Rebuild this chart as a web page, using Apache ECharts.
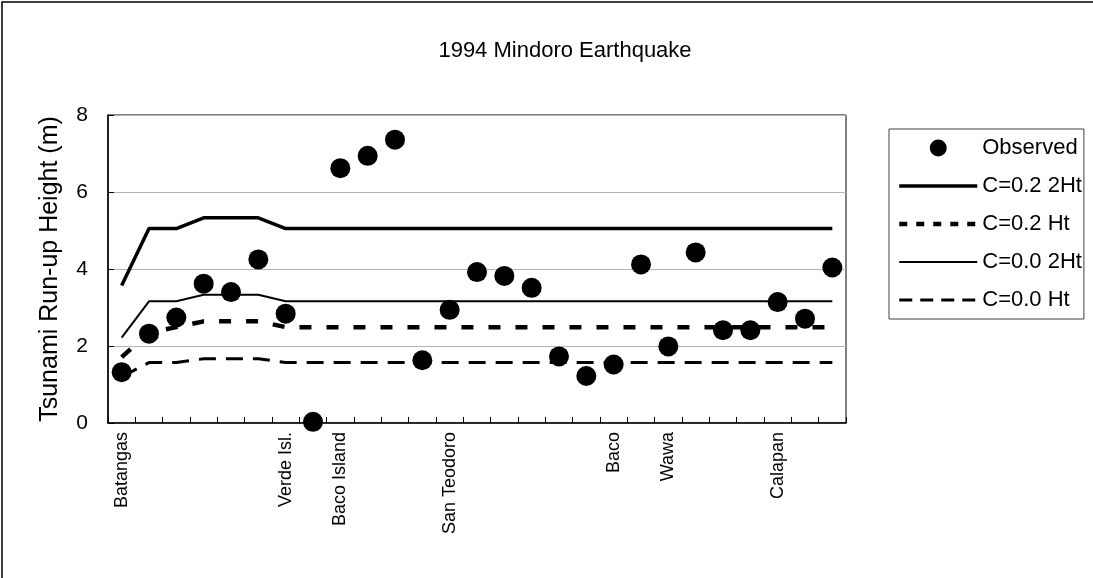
<!DOCTYPE html>
<html>
<head>
<meta charset="utf-8">
<script src="https://cdn.jsdelivr.net/npm/echarts@6/dist/echarts.min.js"></script>
<style>
html,body{margin:0;padding:0;background:#fff;}
#chart{width:1093px;height:578px;}
</style>
</head>
<body>
<div id="chart"></div>
<script>
var categories = ['Batangas','','','','','','Verde Isl.','','Baco Island','','','','San Teodoro','','','','','','Baco','','Wawa','','','','Calapan','',''];
var observed = [1.32, 2.32, 2.74, 3.62, 3.40, 4.25, 2.84, 0.03, 6.62, 6.94, 7.36, 1.63, 2.94, 3.92, 3.82, 3.51, 1.73, 1.22, 1.52, 4.12, 1.99, 4.43, 2.41, 2.41, 3.14, 2.71, 4.04];
var c02_2Ht = [3.57, 5.05, 5.05, 5.33, 5.33, 5.33, 5.05, 5.05, 5.05, 5.05, 5.05, 5.05, 5.05, 5.05, 5.05, 5.05, 5.05, 5.05, 5.05, 5.05, 5.05, 5.05, 5.05, 5.05, 5.05, 5.05, 5.05];
var c02_Ht = [1.71, 2.35, 2.49, 2.64, 2.64, 2.64, 2.49, 2.49, 2.49, 2.49, 2.49, 2.49, 2.49, 2.49, 2.49, 2.49, 2.49, 2.49, 2.49, 2.49, 2.49, 2.49, 2.49, 2.49, 2.49, 2.49, 2.49];
var c00_2Ht = [2.22, 3.16, 3.16, 3.33, 3.33, 3.33, 3.16, 3.16, 3.16, 3.16, 3.16, 3.16, 3.16, 3.16, 3.16, 3.16, 3.16, 3.16, 3.16, 3.16, 3.16, 3.16, 3.16, 3.16, 3.16, 3.16, 3.16];
var c00_Ht = [1.20, 1.57, 1.57, 1.67, 1.67, 1.67, 1.57, 1.57, 1.57, 1.57, 1.57, 1.57, 1.57, 1.57, 1.57, 1.57, 1.57, 1.57, 1.57, 1.57, 1.57, 1.57, 1.57, 1.57, 1.57, 1.57, 1.57];
var yTicks = [0, 2, 4, 6, 8];
var titleText = '1994 Mindoro Earthquake';
var yName = 'Tsunami Run-up Height (m)';
var seriesNames = ['Observed', 'C=0.2 2Ht', 'C=0.2 Ht', 'C=0.0 2Ht', 'C=0.0 Ht'];

var FONT = "'Liberation Sans', Arial, sans-serif";
var chart = echarts.init(document.getElementById('chart'), null, {renderer: 'canvas'});

var lineStyles = [
  null,
  {width: 3.5, type: 'solid'},
  {width: 4.5, type: [12, 15]},
  {width: 2, type: 'solid'},
  {width: 3, type: [17, 10]}
];
var legendDash = [null, 'solid', [8, 9], 'solid', [13, 8]];
var seriesData = [observed, c02_2Ht, c02_Ht, c00_2Ht, c00_Ht];

var series = [];
var legendData = [];
for (var i = 0; i < seriesNames.length; i++) {
  if (i === 0) {
    series.push({
      name: seriesNames[i], type: 'scatter', data: seriesData[i],
      symbol: 'circle', symbolSize: 20, z: 5, clip: false,
      itemStyle: {color: '#000', opacity: 1}
    });
    legendData.push({name: seriesNames[i], icon: 'circle', itemStyle: {color: '#000', opacity: 1}});
  } else {
    series.push({
      name: seriesNames[i], type: 'line', data: seriesData[i],
      symbol: 'none', showSymbol: false, z: 3,
      lineStyle: {color: '#000', width: lineStyles[i].width, type: lineStyles[i].type, cap: 'butt'}
    });
    legendData.push({
      name: seriesNames[i],
      itemStyle: {opacity: 0},
      lineStyle: {color: '#000', width: lineStyles[i].width, type: legendDash[i]}
    });
  }
}

var option = {
  animation: false,
  backgroundColor: '#fff',
  textStyle: {fontFamily: FONT},
  title: {
    text: titleText,
    left: 560, top: 35, textAlign: 'center',
    textStyle: {fontFamily: FONT, fontSize: 22, fontWeight: 'normal', color: '#000'}
  },
  graphic: [{
    type: 'rect', silent: true, z: 0,
    shape: {x: 2, y: 2, width: 1300, height: 800},
    style: {fill: null, stroke: '#000', lineWidth: 1.5}
  }],
  legend: {
    orient: 'vertical', left: 889, top: 129,
    padding: [8, 2, 8, 8],
    itemWidth: 78, itemHeight: 17, itemGap: 16,
    borderColor: '#404040', borderWidth: 1,
    selectedMode: false,
    textStyle: {fontFamily: FONT, fontSize: 22, color: '#000', lineHeight: 22},
    data: legendData
  },
  grid: {
    left: 108, right: 247, top: 115, bottom: 155,
    show: true, borderColor: '#000', borderWidth: 1, backgroundColor: 'transparent'
  },
  xAxis: {
    type: 'category', data: categories, boundaryGap: true,
    axisLine: {lineStyle: {color: '#000', width: 1.5}},
    axisTick: {show: true, inside: true, length: 6, interval: 0, lineStyle: {color: '#000'}},
    axisLabel: {interval: 0, rotate: 90, margin: 9, fontFamily: FONT, fontSize: 18, color: '#000'},
    splitLine: {show: false}
  },
  yAxis: {
    type: 'value', min: yTicks[0], max: yTicks[yTicks.length - 1], interval: 2,
    name: yName, nameLocation: 'middle', nameRotate: 90, nameGap: 45,
    nameTextStyle: {fontFamily: FONT, fontSize: 25, color: '#000'},
    axisLine: {show: true, lineStyle: {color: '#000', width: 1.5}},
    axisTick: {show: true, inside: true, length: 6, lineStyle: {color: '#000'}},
    axisLabel: {margin: 20, fontFamily: FONT, fontSize: 21, color: '#000'},
    splitLine: {show: true, lineStyle: {color: '#b4b4b4', width: 1}}
  },
  series: series
};
chart.setOption(option);
</script>
</body>
</html>
